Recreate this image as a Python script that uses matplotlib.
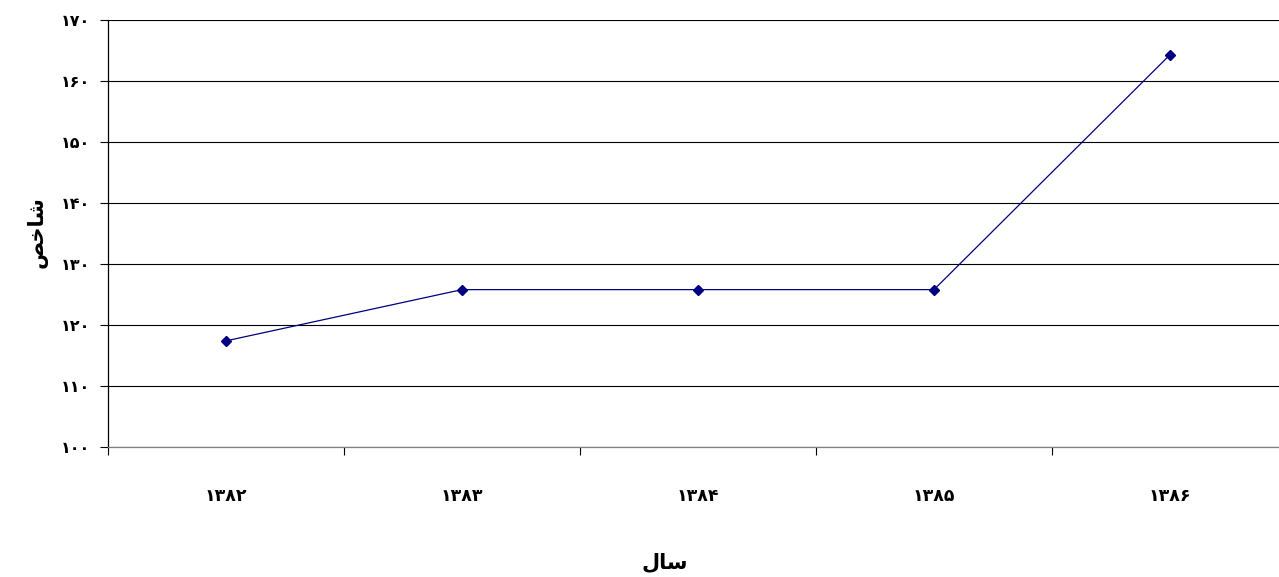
import matplotlib
matplotlib.use("Agg")
import matplotlib.pyplot as plt
import numpy as np

years = ["۱۳۸۲", "۱۳۸۳", "۱۳۸۴", "۱۳۸۵", "۱۳۸۶"]
values = [117.4, 125.8, 125.8, 125.8, 164.3]
y_ticks = [100, 110, 120, 130, 140, 150, 160, 170]
y_tick_labels = ["۱۰۰", "۱۱۰", "۱۲۰", "۱۳۰", "۱۴۰", "۱۵۰", "۱۶۰", "۱۷۰"]

# Arabic-script labels in shaped (presentation) forms, visual order
x_title = "\uFEDD\uFE8E\uFEB3"          # سال
y_title = "\uFEBA\uFEA7\uFE8E\uFEB7"    # شاخص

plt.rcParams['font.family'] = ['DejaVu Sans']

fig = plt.figure(figsize=(12.79, 5.77), dpi=100)
ax = fig.add_axes([108/1279, 130/577, 1180/1279, 427/577])

x = np.arange(len(years))
ax.plot(x, values, color='#000080', linewidth=0.9, marker='D', markersize=5.5,
        markerfacecolor='#000080', markeredgecolor='#000080', zorder=3)

ax.set_xlim(-0.5, len(years) - 0.5)
ax.set_ylim(100, 170)
ax.set_yticks(y_ticks)
ax.set_yticklabels(y_tick_labels, fontsize=11.5, fontweight='bold')
ax.yaxis.grid(True, color='black', linewidth=0.8)
ax.set_axisbelow(True)

ax.set_xticks(x)
ax.set_xticklabels(years, fontsize=12.5, fontweight='bold')
ax.set_xticks(np.arange(-0.5, len(years)), minor=True)
ax.tick_params(axis='x', which='major', length=0, pad=29)
ax.tick_params(axis='x', which='minor', length=6, width=0.8, direction='out')
ax.tick_params(axis='y', which='major', length=6, width=0.8, direction='out', pad=7)

for s in ['top', 'right']:
    ax.spines[s].set_visible(False)
ax.spines['left'].set_color('black')
ax.spines['left'].set_linewidth(0.9)
ax.spines['bottom'].set_color('#808080')
ax.spines['bottom'].set_linewidth(0.9)

ax.set_xlabel(x_title, fontsize=15, fontweight='bold')
ax.set_ylabel(y_title, fontsize=15, fontweight='bold')
ax.xaxis.set_label_coords((665 - 108) / 1180, -(562 - 447) / 427)
ax.yaxis.set_label_coords(-(108 - 37) / 1180, (447 - 232) / 427)
ax.xaxis.label.set_va('center')
ax.yaxis.label.set_va('center')

fig.savefig("out.png", dpi=100, facecolor='white')
